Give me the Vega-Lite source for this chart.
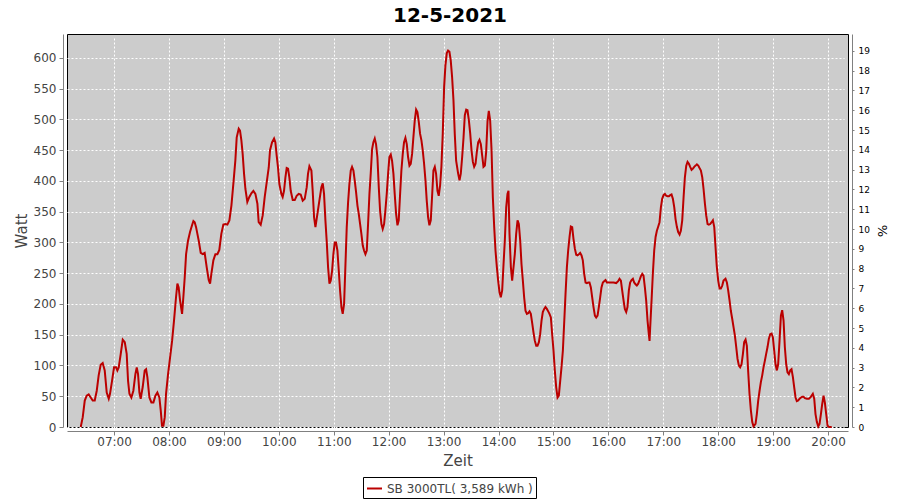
{
"$schema": "https://vega.github.io/schema/vega-lite/v6.json",
"width": 781, "height": 393,
"autosize": {"type": "none"},
"padding": {"left": 67, "top": 34, "right": 52, "bottom": 73},
"background": "white",
"title": {"text": "12-5-2021", "font": "DejaVu Sans", "fontSize": 20, "fontWeight": "bold", "color": "black", "anchor": "middle", "frame": "group", "dx": -7.5, "offset": 8},
"config": {
  "view": {"fill": "#cccccc", "stroke": "black", "strokeWidth": 1},
  "axis": {"labelFont": "DejaVu Sans", "titleFont": "DejaVu Sans", "labelColor": "#444444", "titleColor": "#444444", "domainColor": "#808080", "tickColor": "#808080", "gridColor": "white", "gridDash": [2, 2], "gridOpacity": 1, "gridWidth": 1, "titleFontWeight": "normal", "offset": 4}
},
"datasets": {"power": [
{"t":"2021-05-12T06:23:36","watt":0},{"t":"2021-05-12T06:25:48","watt":16},{"t":"2021-05-12T06:28:00","watt":43},{"t":"2021-05-12T06:30:06","watt":51},{"t":"2021-05-12T06:32:18","watt":53},{"t":"2021-05-12T06:34:30","watt":48},{"t":"2021-05-12T06:36:42","watt":43},{"t":"2021-05-12T06:38:54","watt":43},{"t":"2021-05-12T06:41:06","watt":59},{"t":"2021-05-12T06:43:12","watt":84},{"t":"2021-05-12T06:45:24","watt":101},{"t":"2021-05-12T06:47:36","watt":104},{"t":"2021-05-12T06:49:48","watt":92},{"t":"2021-05-12T06:52:00","watt":56},{"t":"2021-05-12T06:54:12","watt":46},{"t":"2021-05-12T06:55:36","watt":54},{"t":"2021-05-12T06:57:48","watt":75},{"t":"2021-05-12T07:00:00","watt":97},{"t":"2021-05-12T07:02:12","watt":97},{"t":"2021-05-12T07:03:36","watt":92},{"t":"2021-05-12T07:05:06","watt":97},{"t":"2021-05-12T07:07:18","watt":119},{"t":"2021-05-12T07:09:30","watt":142},{"t":"2021-05-12T07:11:42","watt":138},{"t":"2021-05-12T07:13:48","watt":119},{"t":"2021-05-12T07:15:18","watt":75},{"t":"2021-05-12T07:16:48","watt":54},{"t":"2021-05-12T07:18:54","watt":48},{"t":"2021-05-12T07:21:06","watt":59},{"t":"2021-05-12T07:23:18","watt":86},{"t":"2021-05-12T07:24:48","watt":97},{"t":"2021-05-12T07:26:12","watt":86},{"t":"2021-05-12T07:27:42","watt":56},{"t":"2021-05-12T07:29:06","watt":46},{"t":"2021-05-12T07:31:18","watt":65},{"t":"2021-05-12T07:33:30","watt":92},{"t":"2021-05-12T07:35:00","watt":94},{"t":"2021-05-12T07:36:24","watt":81},{"t":"2021-05-12T07:38:36","watt":48},{"t":"2021-05-12T07:40:48","watt":40},{"t":"2021-05-12T07:43:00","watt":40},{"t":"2021-05-12T07:45:12","watt":51},{"t":"2021-05-12T07:47:18","watt":56},{"t":"2021-05-12T07:49:30","watt":48},{"t":"2021-05-12T07:51:00","watt":27},{"t":"2021-05-12T07:52:24","watt":2},{"t":"2021-05-12T07:53:54","watt":2},{"t":"2021-05-12T07:55:24","watt":16},{"t":"2021-05-12T07:56:48","watt":54},{"t":"2021-05-12T07:59:00","watt":86},{"t":"2021-05-12T08:01:12","watt":113},{"t":"2021-05-12T08:03:24","watt":140},{"t":"2021-05-12T08:05:30","watt":173},{"t":"2021-05-12T08:07:42","watt":211},{"t":"2021-05-12T08:09:12","watt":233},{"t":"2021-05-12T08:10:36","watt":227},{"t":"2021-05-12T08:12:06","watt":206},{"t":"2021-05-12T08:14:18","watt":184},{"t":"2021-05-12T08:15:42","watt":211},{"t":"2021-05-12T08:17:12","watt":243},{"t":"2021-05-12T08:18:42","watt":281},{"t":"2021-05-12T08:20:48","watt":303},{"t":"2021-05-12T08:23:00","watt":317},{"t":"2021-05-12T08:25:12","watt":328},{"t":"2021-05-12T08:26:42","watt":335},{"t":"2021-05-12T08:28:06","watt":333},{"t":"2021-05-12T08:29:36","watt":325},
{"t":"2021-05-12T08:32:30","watt":303},{"t":"2021-05-12T08:34:42","watt":283},{"t":"2021-05-12T08:36:48","watt":281},{"t":"2021-05-12T08:39:00","watt":283},{"t":"2021-05-12T08:41:12","watt":260},{"t":"2021-05-12T08:43:24","watt":239},{"t":"2021-05-12T08:44:54","watt":233},{"t":"2021-05-12T08:46:18","watt":249},{"t":"2021-05-12T08:48:30","watt":271},{"t":"2021-05-12T08:50:42","watt":281},{"t":"2021-05-12T08:52:54","watt":281},{"t":"2021-05-12T08:55:00","watt":288},{"t":"2021-05-12T08:57:12","watt":314},{"t":"2021-05-12T08:59:24","watt":329},{"t":"2021-05-12T09:01:36","watt":330},{"t":"2021-05-12T09:03:48","watt":329},{"t":"2021-05-12T09:06:00","watt":336},{"t":"2021-05-12T09:08:12","watt":360},{"t":"2021-05-12T09:10:18","watt":395},{"t":"2021-05-12T09:12:30","watt":433},{"t":"2021-05-12T09:14:00","watt":471},{"t":"2021-05-12T09:16:12","watt":485},{"t":"2021-05-12T09:17:36","watt":482},{"t":"2021-05-12T09:19:06","watt":466},{"t":"2021-05-12T09:20:30","watt":444},{"t":"2021-05-12T09:22:00","watt":412},{"t":"2021-05-12T09:23:30","watt":387},{"t":"2021-05-12T09:25:36","watt":366},{"t":"2021-05-12T09:27:48","watt":374},{"t":"2021-05-12T09:30:00","watt":380},{"t":"2021-05-12T09:32:12","watt":384},{"t":"2021-05-12T09:34:24","watt":379},{"t":"2021-05-12T09:36:36","watt":363},{"t":"2021-05-12T09:38:00","watt":333},{"t":"2021-05-12T09:40:12","watt":329},{"t":"2021-05-12T09:42:24","watt":344},{"t":"2021-05-12T09:44:36","watt":374},{"t":"2021-05-12T09:46:48","watt":398},{"t":"2021-05-12T09:49:00","watt":422},{"t":"2021-05-12T09:50:24","watt":450},{"t":"2021-05-12T09:52:36","watt":463},{"t":"2021-05-12T09:54:48","watt":469},{"t":"2021-05-12T09:56:12","watt":463},{"t":"2021-05-12T09:57:42","watt":441},{"t":"2021-05-12T09:59:06","watt":422},{"t":"2021-05-12T10:00:36","watt":395},{"t":"2021-05-12T10:02:48","watt":379},{"t":"2021-05-12T10:04:12","watt":374},{"t":"2021-05-12T10:05:42","watt":384},{"t":"2021-05-12T10:07:12","watt":406},{"t":"2021-05-12T10:08:36","watt":421},{"t":"2021-05-12T10:10:06","watt":420},{"t":"2021-05-12T10:11:30","watt":406},{"t":"2021-05-12T10:13:00","watt":384},{"t":"2021-05-12T10:15:12","watt":369},{"t":"2021-05-12T10:17:24","watt":369},{"t":"2021-05-12T10:19:30","watt":376},{"t":"2021-05-12T10:21:42","watt":379},{"t":"2021-05-12T10:23:54","watt":378},{"t":"2021-05-12T10:26:06","watt":368},{"t":"2021-05-12T10:28:18","watt":371},{"t":"2021-05-12T10:30:30","watt":390},{"t":"2021-05-12T10:31:54","watt":412},{"t":"2021-05-12T10:33:24","watt":424},{"t":"2021-05-12T10:35:36","watt":417},{"t":"2021-05-12T10:37:00","watt":384},{"t":"2021-05-12T10:38:30","watt":341},{"t":"2021-05-12T10:40:00","watt":325},{"t":"2021-05-12T10:42:12","watt":347},{"t":"2021-05-12T10:44:18","watt":368},{"t":"2021-05-12T10:46:30","watt":390},{"t":"2021-05-12T10:48:00","watt":396},{"t":"2021-05-12T10:49:24","watt":379},{"t":"2021-05-12T10:50:54","watt":336},
{"t":"2021-05-12T10:52:24","watt":300},{"t":"2021-05-12T10:53:48","watt":260},{"t":"2021-05-12T10:55:18","watt":233},{"t":"2021-05-12T10:56:42","watt":238},{"t":"2021-05-12T10:58:12","watt":254},{"t":"2021-05-12T10:59:36","watt":281},{"t":"2021-05-12T11:01:06","watt":300},{"t":"2021-05-12T11:02:30","watt":300},{"t":"2021-05-12T11:04:00","watt":287},{"t":"2021-05-12T11:05:30","watt":254},{"t":"2021-05-12T11:06:54","watt":222},{"t":"2021-05-12T11:08:24","watt":195},{"t":"2021-05-12T11:09:48","watt":184},{"t":"2021-05-12T11:11:18","watt":200},{"t":"2021-05-12T11:12:42","watt":260},{"t":"2021-05-12T11:14:12","watt":325},{"t":"2021-05-12T11:15:42","watt":366},{"t":"2021-05-12T11:17:06","watt":395},{"t":"2021-05-12T11:18:36","watt":417},{"t":"2021-05-12T11:20:00","watt":423},{"t":"2021-05-12T11:21:30","watt":417},{"t":"2021-05-12T11:22:54","watt":401},{"t":"2021-05-12T11:24:24","watt":382},{"t":"2021-05-12T11:25:54","watt":360},{"t":"2021-05-12T11:27:18","watt":347},{"t":"2021-05-12T11:28:48","watt":330},{"t":"2021-05-12T11:30:12","watt":314},{"t":"2021-05-12T11:31:42","watt":295},{"t":"2021-05-12T11:33:06","watt":287},{"t":"2021-05-12T11:34:36","watt":281},{"t":"2021-05-12T11:36:06","watt":287},{"t":"2021-05-12T11:37:30","watt":330},{"t":"2021-05-12T11:39:00","watt":379},{"t":"2021-05-12T11:40:24","watt":412},{"t":"2021-05-12T11:41:54","watt":452},{"t":"2021-05-12T11:43:18","watt":463},{"t":"2021-05-12T11:44:48","watt":469},{"t":"2021-05-12T11:46:12","watt":460},{"t":"2021-05-12T11:47:42","watt":439},{"t":"2021-05-12T11:49:12","watt":390},{"t":"2021-05-12T11:50:36","watt":352},{"t":"2021-05-12T11:52:06","watt":330},{"t":"2021-05-12T11:53:30","watt":322},{"t":"2021-05-12T11:55:00","watt":330},{"t":"2021-05-12T11:56:24","watt":352},{"t":"2021-05-12T11:57:54","watt":379},{"t":"2021-05-12T11:59:24","watt":412},{"t":"2021-05-12T12:00:48","watt":439},{"t":"2021-05-12T12:02:18","watt":443},{"t":"2021-05-12T12:03:42","watt":433},{"t":"2021-05-12T12:05:12","watt":412},{"t":"2021-05-12T12:06:36","watt":379},{"t":"2021-05-12T12:08:06","watt":347},{"t":"2021-05-12T12:09:36","watt":328},{"t":"2021-05-12T12:11:00","watt":336},{"t":"2021-05-12T12:12:30","watt":379},{"t":"2021-05-12T12:13:54","watt":417},{"t":"2021-05-12T12:15:24","watt":444},{"t":"2021-05-12T12:16:48","watt":463},{"t":"2021-05-12T12:18:18","watt":470},{"t":"2021-05-12T12:19:48","watt":460},{"t":"2021-05-12T12:21:12","watt":439},{"t":"2021-05-12T12:22:42","watt":425},{"t":"2021-05-12T12:24:06","watt":428},{"t":"2021-05-12T12:25:36","watt":444},{"t":"2021-05-12T12:27:00","watt":471},{"t":"2021-05-12T12:28:30","watt":498},{"t":"2021-05-12T12:30:00","watt":516},{"t":"2021-05-12T12:31:24","watt":512},{"t":"2021-05-12T12:32:54","watt":496},{"t":"2021-05-12T12:34:18","watt":477},{"t":"2021-05-12T12:35:48","watt":466},{"t":"2021-05-12T12:37:12","watt":450},{"t":"2021-05-12T12:38:42","watt":428},{"t":"2021-05-12T12:40:12","watt":401},{"t":"2021-05-12T12:41:36","watt":368},{"t":"2021-05-12T12:43:06","watt":341},{"t":"2021-05-12T12:44:30","watt":328},{"t":"2021-05-12T12:46:00","watt":336},{"t":"2021-05-12T12:47:24","watt":374},{"t":"2021-05-12T12:48:54","watt":417},{"t":"2021-05-12T12:50:24","watt":423},{"t":"2021-05-12T12:51:48","watt":412},{"t":"2021-05-12T12:53:18","watt":384},{"t":"2021-05-12T12:54:42","watt":376},{"t":"2021-05-12T12:56:12","watt":393},{"t":"2021-05-12T12:57:36","watt":423},{"t":"2021-05-12T12:59:06","watt":477},{"t":"2021-05-12T13:00:36","watt":553},{"t":"2021-05-12T13:02:00","watt":588},{"t":"2021-05-12T13:03:30","watt":608},{"t":"2021-05-12T13:04:54","watt":612},{"t":"2021-05-12T13:06:24","watt":610},{"t":"2021-05-12T13:07:48","watt":596},{"t":"2021-05-12T13:09:18","watt":569},{"t":"2021-05-12T13:10:48","watt":531},{"t":"2021-05-12T13:12:12","watt":477},{"t":"2021-05-12T13:13:42","watt":433},
{"t":"2021-05-12T13:15:54","watt":412},{"t":"2021-05-12T13:17:24","watt":401},{"t":"2021-05-12T13:18:48","watt":412},{"t":"2021-05-12T13:20:18","watt":439},{"t":"2021-05-12T13:21:48","watt":471},{"t":"2021-05-12T13:23:12","watt":507},{"t":"2021-05-12T13:24:42","watt":516},{"t":"2021-05-12T13:26:06","watt":515},{"t":"2021-05-12T13:27:36","watt":499},{"t":"2021-05-12T13:29:06","watt":477},{"t":"2021-05-12T13:30:30","watt":450},{"t":"2021-05-12T13:32:00","watt":431},{"t":"2021-05-12T13:33:24","watt":423},{"t":"2021-05-12T13:34:54","watt":428},{"t":"2021-05-12T13:36:18","watt":447},{"t":"2021-05-12T13:37:48","watt":463},{"t":"2021-05-12T13:39:12","watt":467},{"t":"2021-05-12T13:40:42","watt":460},{"t":"2021-05-12T13:42:12","watt":441},{"t":"2021-05-12T13:43:36","watt":423},{"t":"2021-05-12T13:45:06","watt":425},{"t":"2021-05-12T13:46:30","watt":447},{"t":"2021-05-12T13:48:00","watt":497},{"t":"2021-05-12T13:49:24","watt":514},{"t":"2021-05-12T13:50:54","watt":498},{"t":"2021-05-12T13:52:24","watt":450},{"t":"2021-05-12T13:53:48","watt":374},{"t":"2021-05-12T13:55:18","watt":325},{"t":"2021-05-12T13:56:42","watt":287},{"t":"2021-05-12T13:58:12","watt":260},{"t":"2021-05-12T13:59:36","watt":238},{"t":"2021-05-12T14:01:06","watt":219},{"t":"2021-05-12T14:02:30","watt":211},{"t":"2021-05-12T14:04:00","watt":222},{"t":"2021-05-12T14:05:30","watt":265},{"t":"2021-05-12T14:06:54","watt":303},{"t":"2021-05-12T14:08:24","watt":357},{"t":"2021-05-12T14:09:48","watt":379},{"t":"2021-05-12T14:10:54","watt":384},{"t":"2021-05-12T14:12:00","watt":314},{"t":"2021-05-12T14:13:30","watt":260},{"t":"2021-05-12T14:14:54","watt":238},{"t":"2021-05-12T14:16:24","watt":260},{"t":"2021-05-12T14:17:48","watt":281},{"t":"2021-05-12T14:19:18","watt":314},{"t":"2021-05-12T14:20:48","watt":336},{"t":"2021-05-12T14:22:12","watt":330},{"t":"2021-05-12T14:23:42","watt":303},{"t":"2021-05-12T14:25:06","watt":265},{"t":"2021-05-12T14:26:36","watt":238},{"t":"2021-05-12T14:28:00","watt":211},{"t":"2021-05-12T14:29:30","watt":189},{"t":"2021-05-12T14:31:00","watt":184},{"t":"2021-05-12T14:32:24","watt":185},{"t":"2021-05-12T14:33:54","watt":188},{"t":"2021-05-12T14:35:18","watt":184},{"t":"2021-05-12T14:36:48","watt":169},{"t":"2021-05-12T14:38:12","watt":154},{"t":"2021-05-12T14:39:42","watt":140},{"t":"2021-05-12T14:41:12","watt":132},{"t":"2021-05-12T14:42:36","watt":132},{"t":"2021-05-12T14:44:06","watt":138},{"t":"2021-05-12T14:45:30","watt":151},{"t":"2021-05-12T14:47:00","watt":173},{"t":"2021-05-12T14:48:24","watt":187},{"t":"2021-05-12T14:49:54","watt":192},{"t":"2021-05-12T14:51:18","watt":195},{"t":"2021-05-12T14:52:48","watt":192},{"t":"2021-05-12T14:54:18","watt":188},{"t":"2021-05-12T14:55:42","watt":184},{"t":"2021-05-12T14:57:12","watt":178},{"t":"2021-05-12T14:58:36","watt":151},{"t":"2021-05-12T15:00:06","watt":124},{"t":"2021-05-12T15:01:30","watt":92},{"t":"2021-05-12T15:03:00","watt":65},{"t":"2021-05-12T15:04:30","watt":48},{"t":"2021-05-12T15:05:54","watt":51},{"t":"2021-05-12T15:07:24","watt":75},{"t":"2021-05-12T15:08:48","watt":97},{"t":"2021-05-12T15:10:18","watt":124},{"t":"2021-05-12T15:11:42","watt":168},{"t":"2021-05-12T15:13:12","watt":216},{"t":"2021-05-12T15:14:42","watt":260},{"t":"2021-05-12T15:16:06","watt":287},{"t":"2021-05-12T15:17:36","watt":309},{"t":"2021-05-12T15:19:00","watt":326},{"t":"2021-05-12T15:20:30","watt":325},{"t":"2021-05-12T15:21:54","watt":306},{"t":"2021-05-12T15:23:24","watt":290},{"t":"2021-05-12T15:24:54","watt":280},{"t":"2021-05-12T15:26:18","watt":279},{"t":"2021-05-12T15:27:48","watt":281},{"t":"2021-05-12T15:29:12","watt":283},{"t":"2021-05-12T15:30:42","watt":279},{"t":"2021-05-12T15:32:06","watt":271},{"t":"2021-05-12T15:33:36","watt":249},{"t":"2021-05-12T15:35:06","watt":235},{"t":"2021-05-12T15:36:30","watt":234},
{"t":"2021-05-12T15:38:00","watt":235},{"t":"2021-05-12T15:39:24","watt":235},{"t":"2021-05-12T15:40:54","watt":227},{"t":"2021-05-12T15:42:18","watt":211},{"t":"2021-05-12T15:43:48","watt":195},{"t":"2021-05-12T15:45:18","watt":181},{"t":"2021-05-12T15:46:42","watt":178},{"t":"2021-05-12T15:48:12","watt":181},{"t":"2021-05-12T15:49:36","watt":195},{"t":"2021-05-12T15:51:06","watt":211},{"t":"2021-05-12T15:52:30","watt":227},{"t":"2021-05-12T15:54:00","watt":235},{"t":"2021-05-12T15:55:24","watt":237},{"t":"2021-05-12T15:56:54","watt":239},{"t":"2021-05-12T15:58:24","watt":235},{"t":"2021-05-12T16:02:00","watt":235},{"t":"2021-05-12T16:05:36","watt":235},{"t":"2021-05-12T16:08:36","watt":234},{"t":"2021-05-12T16:10:42","watt":237},{"t":"2021-05-12T16:12:12","watt":241},{"t":"2021-05-12T16:13:42","watt":238},{"t":"2021-05-12T16:15:06","watt":222},{"t":"2021-05-12T16:16:36","watt":206},{"t":"2021-05-12T16:18:00","watt":192},{"t":"2021-05-12T16:19:30","watt":187},{"t":"2021-05-12T16:20:54","watt":195},{"t":"2021-05-12T16:22:24","watt":222},{"t":"2021-05-12T16:23:48","watt":235},{"t":"2021-05-12T16:25:18","watt":239},{"t":"2021-05-12T16:26:48","watt":241},{"t":"2021-05-12T16:28:12","watt":235},{"t":"2021-05-12T16:29:42","watt":232},{"t":"2021-05-12T16:31:06","watt":230},{"t":"2021-05-12T16:32:36","watt":233},{"t":"2021-05-12T16:34:06","watt":239},{"t":"2021-05-12T16:35:30","watt":245},{"t":"2021-05-12T16:37:00","watt":249},{"t":"2021-05-12T16:38:24","watt":246},{"t":"2021-05-12T16:39:54","watt":227},{"t":"2021-05-12T16:41:18","watt":206},{"t":"2021-05-12T16:42:48","watt":173},{"t":"2021-05-12T16:44:12","watt":151},{"t":"2021-05-12T16:45:00","watt":140},{"t":"2021-05-12T16:45:42","watt":162},{"t":"2021-05-12T16:47:12","watt":206},{"t":"2021-05-12T16:48:36","watt":249},{"t":"2021-05-12T16:50:06","watt":287},{"t":"2021-05-12T16:51:36","watt":309},{"t":"2021-05-12T16:53:00","watt":319},{"t":"2021-05-12T16:54:30","watt":326},{"t":"2021-05-12T16:55:54","watt":333},{"t":"2021-05-12T16:57:24","watt":357},{"t":"2021-05-12T16:58:48","watt":371},{"t":"2021-05-12T17:00:18","watt":377},{"t":"2021-05-12T17:01:48","watt":379},{"t":"2021-05-12T17:03:12","watt":376},{"t":"2021-05-12T17:04:42","watt":375},{"t":"2021-05-12T17:06:06","watt":375},{"t":"2021-05-12T17:07:36","watt":377},{"t":"2021-05-12T17:09:00","watt":378},{"t":"2021-05-12T17:10:30","watt":371},{"t":"2021-05-12T17:12:00","watt":357},{"t":"2021-05-12T17:13:24","watt":338},{"t":"2021-05-12T17:14:54","watt":325},{"t":"2021-05-12T17:16:18","watt":317},{"t":"2021-05-12T17:17:48","watt":313},{"t":"2021-05-12T17:19:12","watt":319},{"t":"2021-05-12T17:20:42","watt":336},{"t":"2021-05-12T17:22:12","watt":374},{"t":"2021-05-12T17:23:36","watt":406},{"t":"2021-05-12T17:25:06","watt":425},{"t":"2021-05-12T17:26:30","watt":431},{"t":"2021-05-12T17:28:00","watt":428},{"t":"2021-05-12T17:29:24","watt":423},{"t":"2021-05-12T17:30:54","watt":418},{"t":"2021-05-12T17:32:24","watt":420},{"t":"2021-05-12T17:33:48","watt":423},{"t":"2021-05-12T17:35:18","watt":425},{"t":"2021-05-12T17:36:42","watt":427},{"t":"2021-05-12T17:38:12","watt":425},{"t":"2021-05-12T17:39:36","watt":421},{"t":"2021-05-12T17:41:06","watt":417},{"t":"2021-05-12T17:42:36","watt":406},{"t":"2021-05-12T17:44:00","watt":387},{"t":"2021-05-12T17:45:30","watt":363},{"t":"2021-05-12T17:46:54","watt":344},{"t":"2021-05-12T17:48:24","watt":330},{"t":"2021-05-12T17:49:48","watt":329},{"t":"2021-05-12T17:51:18","watt":330},{"t":"2021-05-12T17:52:48","watt":333},{"t":"2021-05-12T17:54:12","watt":336},{"t":"2021-05-12T17:55:42","watt":325},{"t":"2021-05-12T17:57:06","watt":292},{"t":"2021-05-12T17:58:24","watt":262},
{"t":"2021-05-12T18:00:00","watt":238},{"t":"2021-05-12T18:01:30","watt":225},{"t":"2021-05-12T18:02:54","watt":225},{"t":"2021-05-12T18:04:24","watt":230},{"t":"2021-05-12T18:05:48","watt":238},{"t":"2021-05-12T18:08:00","watt":241},{"t":"2021-05-12T18:09:30","watt":235},{"t":"2021-05-12T18:10:54","watt":222},{"t":"2021-05-12T18:12:24","watt":206},{"t":"2021-05-12T18:13:48","watt":189},{"t":"2021-05-12T18:15:18","watt":176},{"t":"2021-05-12T18:16:48","watt":162},{"t":"2021-05-12T18:18:12","watt":149},{"t":"2021-05-12T18:19:42","watt":130},{"t":"2021-05-12T18:21:06","watt":111},{"t":"2021-05-12T18:22:36","watt":100},{"t":"2021-05-12T18:24:00","watt":97},{"t":"2021-05-12T18:25:30","watt":102},{"t":"2021-05-12T18:27:00","watt":119},{"t":"2021-05-12T18:28:24","watt":138},{"t":"2021-05-12T18:29:54","watt":142},{"t":"2021-05-12T18:31:18","watt":132},{"t":"2021-05-12T18:32:48","watt":89},{"t":"2021-05-12T18:34:12","watt":54},{"t":"2021-05-12T18:35:42","watt":27},{"t":"2021-05-12T18:37:12","watt":8},{"t":"2021-05-12T18:38:36","watt":1},{"t":"2021-05-12T18:40:48","watt":5},{"t":"2021-05-12T18:42:12","watt":21},{"t":"2021-05-12T18:43:42","watt":43},{"t":"2021-05-12T18:45:12","watt":59},{"t":"2021-05-12T18:46:36","watt":73},{"t":"2021-05-12T18:48:06","watt":84},{"t":"2021-05-12T18:49:30","watt":97},{"t":"2021-05-12T18:51:00","watt":108},{"t":"2021-05-12T18:52:24","watt":119},{"t":"2021-05-12T18:53:54","watt":130},{"t":"2021-05-12T18:55:18","watt":143},{"t":"2021-05-12T18:56:48","watt":151},{"t":"2021-05-12T18:58:18","watt":152},{"t":"2021-05-12T18:59:42","watt":146},{"t":"2021-05-12T19:01:12","watt":124},{"t":"2021-05-12T19:02:36","watt":102},{"t":"2021-05-12T19:04:06","watt":92},{"t":"2021-05-12T19:05:30","watt":102},{"t":"2021-05-12T19:07:00","watt":140},{"t":"2021-05-12T19:08:30","watt":181},{"t":"2021-05-12T19:09:54","watt":190},{"t":"2021-05-12T19:11:24","watt":173},{"t":"2021-05-12T19:12:48","watt":130},{"t":"2021-05-12T19:14:18","watt":102},{"t":"2021-05-12T19:15:42","watt":89},{"t":"2021-05-12T19:17:12","watt":86},{"t":"2021-05-12T19:18:42","watt":92},{"t":"2021-05-12T19:20:06","watt":94},{"t":"2021-05-12T19:21:36","watt":81},{"t":"2021-05-12T19:23:00","watt":65},{"t":"2021-05-12T19:24:30","watt":48},{"t":"2021-05-12T19:25:54","watt":42},{"t":"2021-05-12T19:27:24","watt":43},{"t":"2021-05-12T19:28:54","watt":46},{"t":"2021-05-12T19:30:18","watt":48},{"t":"2021-05-12T19:31:48","watt":49},{"t":"2021-05-12T19:33:12","watt":49},{"t":"2021-05-12T19:34:42","watt":47},{"t":"2021-05-12T19:36:54","watt":46},{"t":"2021-05-12T19:39:06","watt":46},{"t":"2021-05-12T19:41:12","watt":49},{"t":"2021-05-12T19:43:24","watt":54},{"t":"2021-05-12T19:44:54","watt":46},{"t":"2021-05-12T19:46:18","watt":21},{"t":"2021-05-12T19:47:48","watt":8},{"t":"2021-05-12T19:49:18","watt":1},{"t":"2021-05-12T19:50:42","watt":5},{"t":"2021-05-12T19:52:12","watt":21},{"t":"2021-05-12T19:53:36","watt":37},{"t":"2021-05-12T19:55:06","watt":51},{"t":"2021-05-12T19:56:30","watt":40},{"t":"2021-05-12T19:58:00","watt":21},{"t":"2021-05-12T19:59:30","watt":2},{"t":"2021-05-12T20:01:00","watt":0},{"t":"2021-05-12T20:04:00","watt":0}
]},
"layer": [
  {
    "data": {"name": "power"},
    "mark": {"type": "line", "color": "#bb0000", "strokeWidth": 2, "interpolate": "linear"},
    "encoding": {
      "x": {"field": "t", "type": "temporal",
        "scale": {"domain": [{"year": 2021, "month": 5, "date": 12, "hours": 6, "minutes": 8, "seconds": 36}, {"year": 2021, "month": 5, "date": 12, "hours": 20, "minutes": 21, "seconds": 48}]},
        "axis": {"title": "Zeit", "format": "%H:%M", "labelFontSize": 12, "titleFontSize": 15, "tickSize": 4, "labelPadding": 1, "titlePadding": 6, "grid": true, "labelFlush": false, "labelOverlap": false,
          "values": [
            {"year": 2021, "month": 5, "date": 12, "hours": 7}, {"year": 2021, "month": 5, "date": 12, "hours": 8}, {"year": 2021, "month": 5, "date": 12, "hours": 9}, {"year": 2021, "month": 5, "date": 12, "hours": 10}, {"year": 2021, "month": 5, "date": 12, "hours": 11}, {"year": 2021, "month": 5, "date": 12, "hours": 12}, {"year": 2021, "month": 5, "date": 12, "hours": 13}, {"year": 2021, "month": 5, "date": 12, "hours": 14}, {"year": 2021, "month": 5, "date": 12, "hours": 15}, {"year": 2021, "month": 5, "date": 12, "hours": 16}, {"year": 2021, "month": 5, "date": 12, "hours": 17}, {"year": 2021, "month": 5, "date": 12, "hours": 18}, {"year": 2021, "month": 5, "date": 12, "hours": 19}, {"year": 2021, "month": 5, "date": 12, "hours": 20}
          ]}},
      "y": {"field": "watt", "type": "quantitative",
        "scale": {"domain": [0, 639], "nice": false, "zero": true},
        "axis": {"title": "Watt", "values": [0, 50, 100, 150, 200, 250, 300, 350, 400, 450, 500, 550, 600], "labelFontSize": 12, "titleFontSize": 15, "tickSize": 4, "labelPadding": 3, "titlePadding": 4, "grid": true}},
      "color": {"datum": "SB 3000TL( 3,589 kWh )", "type": "nominal",
        "scale": {"range": ["#bb0000"]},
        "legend": {"orient": "none", "legendX": 296, "legendY": 443, "title": null, "strokeColor": "black", "fillColor": "white", "padding": 3, "symbolType": "stroke", "symbolStrokeWidth": 2, "symbolSize": 225, "labelFont": "DejaVu Sans", "labelFontSize": 12, "labelColor": "#444444", "labelOffset": 4, "cornerRadius": 0}}
    }
  },
  {
    "data": {"values": [{}]},
    "mark": {"type": "rule", "opacity": 0},
    "encoding": {
      "y": {"datum": 0, "type": "quantitative",
        "scale": {"domain": [0, 19.85], "nice": false, "zero": true},
        "axis": {"orient": "right", "title": "%", "values": [0, 1, 2, 3, 4, 5, 6, 7, 8, 9, 10, 11, 12, 13, 14, 15, 16, 17, 18, 19], "labelFontSize": 9, "labelColor": "black", "titleColor": "black", "titleFontSize": 13, "tickSize": 2, "labelPadding": 4, "titlePadding": 5, "grid": false}}
    }
  }
],
"resolve": {"scale": {"y": "independent"}}
}
